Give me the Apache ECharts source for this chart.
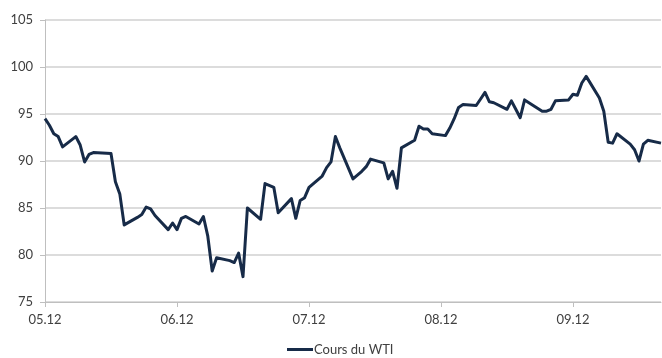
<!DOCTYPE html>
<html>
<head>
<meta charset="utf-8">
<script src="https://cdn.jsdelivr.net/npm/echarts@6/dist/echarts.min.js"></script>
<style>
  html, body { margin: 0; padding: 0; background: #ffffff; }
  #chart { width: 662px; height: 358px; }
</style>
</head>
<body>
<div id="chart"></div>
<script>
// WTI closing prices (USD/bbl), trading days only
const tradeDates = [
  '2012-05-14','2012-05-15','2012-05-16','2012-05-17','2012-05-18',
  '2012-05-21','2012-05-22','2012-05-23','2012-05-24','2012-05-25',
  '2012-05-29','2012-05-30','2012-05-31','2012-06-01',
  '2012-06-04','2012-06-05','2012-06-06','2012-06-07','2012-06-08',
  '2012-06-11','2012-06-12','2012-06-13','2012-06-14','2012-06-15',
  '2012-06-18','2012-06-19','2012-06-20','2012-06-21','2012-06-22',
  '2012-06-25','2012-06-26','2012-06-27','2012-06-28','2012-06-29',
  '2012-07-02','2012-07-03','2012-07-05','2012-07-06',
  '2012-07-09','2012-07-10','2012-07-11','2012-07-12','2012-07-13',
  '2012-07-16','2012-07-17','2012-07-18','2012-07-19','2012-07-20',
  '2012-07-23','2012-07-24','2012-07-25','2012-07-26','2012-07-27',
  '2012-07-30','2012-07-31','2012-08-01','2012-08-02','2012-08-03',
  '2012-08-06','2012-08-07','2012-08-08','2012-08-09','2012-08-10',
  '2012-08-13','2012-08-14','2012-08-15','2012-08-16','2012-08-17',
  '2012-08-20','2012-08-21','2012-08-22','2012-08-23','2012-08-24',
  '2012-08-27','2012-08-28','2012-08-29','2012-08-30','2012-08-31',
  '2012-09-04','2012-09-05','2012-09-06','2012-09-07',
  '2012-09-10','2012-09-11','2012-09-12','2012-09-13','2012-09-14',
  '2012-09-17','2012-09-18','2012-09-19','2012-09-20','2012-09-21',
  '2012-09-24','2012-09-25','2012-09-26','2012-09-27','2012-09-28',
  '2012-10-01'
];
const wtiPrices = [
  94.5, 93.8, 92.9, 92.6, 91.5,
  92.6, 91.7, 89.9, 90.7, 90.9,
  90.8, 87.8, 86.5, 83.2,
  84.0, 84.3, 85.1, 84.9, 84.2,
  82.7, 83.4, 82.7, 83.9, 84.1,
  83.3, 84.1, 82.0, 78.3, 79.7,
  79.4, 79.2, 80.2, 77.7, 85.0,
  83.8, 87.6, 87.2, 84.5,
  86.0, 83.9, 85.8, 86.1, 87.2,
  88.4, 89.3, 89.9, 92.6, 91.4,
  88.1, 88.5, 88.9, 89.4, 90.2,
  89.8, 88.1, 88.9, 87.1, 91.4,
  92.2, 93.7, 93.4, 93.4, 92.9,
  92.7, 93.5, 94.5, 95.7, 96.0,
  95.9, 96.6, 97.3, 96.3, 96.2,
  95.5, 96.4, 95.5, 94.6, 96.5,
  95.3, 95.3, 95.5, 96.4,
  96.5, 97.1, 97.0, 98.3, 99.0,
  96.7, 95.3, 92.0, 91.9, 92.9,
  91.8, 91.2, 90.0, 91.8, 92.2,
  91.9
];
const seriesName = 'Cours du WTI';
const labelEveryDays = 30;
const yMin = 75, yMax = 105, yStep = 5;

// Calendar-day category axis from the first to the last quote
const DAY = 86400000;
function parseUTC(s) {
  const p = s.split('-').map(Number);
  return Date.UTC(p[0], p[1] - 1, p[2]);
}
function fmt(t) {
  const d = new Date(t);
  const m = String(d.getUTCMonth() + 1).padStart(2, '0');
  const dd = String(d.getUTCDate()).padStart(2, '0');
  return d.getUTCFullYear() + '-' + m + '-' + dd;
}
const calendarDays = [];
for (let t = parseUTC(tradeDates[0]); t <= parseUTC(tradeDates[tradeDates.length - 1]); t += DAY) {
  calendarDays.push(fmt(t));
}
function monthYear(s) {
  const p = s.split('-');
  return p[1] + '.' + p[0].slice(2);
}

const textColor = '#404040';
const lineColor = '#172b48';
const font = 'Lato, "Open Sans", sans-serif';

const chart = echarts.init(document.getElementById('chart'), null, { renderer: 'canvas' });
chart.setOption({
  animation: false,
  backgroundColor: '#ffffff',
  grid: { left: 45, right: 1, top: 20, bottom: 56, containLabel: false },
  legend: {
    bottom: -3,
    left: 282,
    data: [{ name: seriesName, icon: 'rect' }],
    itemWidth: 26,
    itemHeight: 3,
    itemGap: 4,
    itemStyle: { color: lineColor, borderWidth: 0 },
    textStyle: { color: textColor, fontFamily: font, fontSize: 13, padding: [0, 0, 0, -4] }
  },
  xAxis: {
    type: 'category',
    boundaryGap: false,
    data: calendarDays,
    axisLine: { lineStyle: { color: '#bfbfbf', width: 1 } },
    axisTick: {
      show: true,
      interval: labelEveryDays - 1,
      length: 5,
      lineStyle: { color: '#bfbfbf' }
    },
    axisLabel: {
      interval: labelEveryDays - 1,
      margin: 11,
      color: textColor,
      fontFamily: font,
      fontSize: 13,
      formatter: monthYear
    },
    splitLine: { show: false }
  },
  yAxis: {
    type: 'value',
    min: yMin,
    max: yMax,
    interval: yStep,
    axisLine: { show: true, lineStyle: { color: '#bfbfbf', width: 1 } },
    axisTick: { show: true, length: 5, lineStyle: { color: '#bfbfbf' } },
    axisLabel: {
      margin: 12,
      color: textColor,
      fontFamily: font,
      fontSize: 13
    },
    splitLine: { show: true, lineStyle: { color: '#d0d0d0', width: 1.5 } }
  },
  series: [{
    name: seriesName,
    type: 'line',
    data: tradeDates.map((d, i) => [d, wtiPrices[i]]),
    showSymbol: false,
    symbol: 'none',
    connectNulls: true,
    lineStyle: { color: lineColor, width: 3, join: 'round' },
    itemStyle: { color: lineColor }
  }]
});
</script>
</body>
</html>
